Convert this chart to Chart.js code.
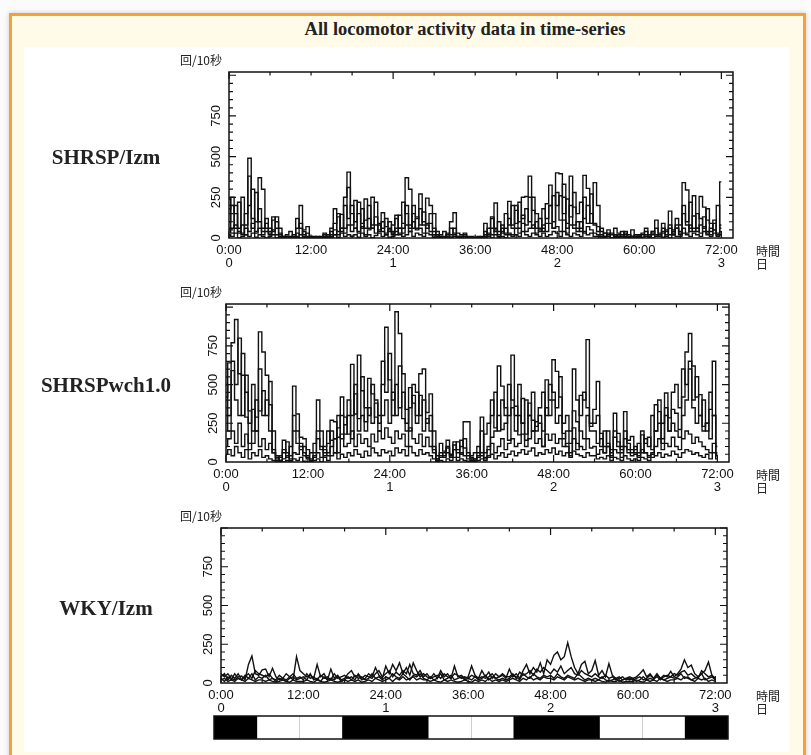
<!DOCTYPE html>
<html>
<head>
<meta charset="utf-8">
<script src="https://cdn.jsdelivr.net/npm/chart.js@4.4.0/dist/chart.umd.min.js"></script>
<style>
  html, body { margin: 0; padding: 0; background: #fbfbfb; }
  body { width: 811px; height: 755px; position: relative; overflow: hidden; }
  #frame { position: absolute; left: 9px; top: 13px; width: 791px; height: 760px;
           border: 3px solid #f5a03a; background: #fffbe8; box-shadow: 0 0 5px rgba(0,0,0,0.2); }
  #sheet { position: absolute; left: 24px; top: 47px; width: 766px; height: 705px; background: #fff; }
  .title { position: absolute; left: 465px; top: 19px; transform: translateX(-50%);
           font: bold 18.5px "Liberation Serif", serif; color: #222; white-space: nowrap; line-height: 20px; }
  .strain { position: absolute; left: 6px; width: 200px; text-align: center;
            font: bold 21px "Liberation Serif", serif; color: #222; line-height: 24px; }
  .unit { position: absolute; left: 180px; font: 12px "Noto Sans CJK JP", sans-serif; color: #222; line-height: 14px; }
  .note { position: absolute; left: 756px; font: 12px "Noto Sans CJK JP", sans-serif; color: #222; line-height: 13px; }
  canvas { position: absolute; }
</style>
</head>
<body>
<div id="frame"></div>
<div id="sheet"></div>
<div class="title">All locomotor activity data in time-series</div>
<script>
// 30-min bins from 0:00 to 72:00
const hours = Array.from({ length: 145 }, (_, i) => i / 2);
const hourTicks = [0, 12, 24, 36, 48, 60, 72];
const hourLabels = ['0:00', '12:00', '24:00', '36:00', '48:00', '60:00', '72:00'];
const dayLabels = ['0', '', '1', '', '2', '', '3'];
const countTicks = [0, 250, 500, 750];
const strains = ['SHRSP/Izm', 'SHRSPwch1.0', 'WKY/Izm'];
const darkPhases = [[0, 6], [18, 30], [42, 54], [66, 72]];
const lightMidpoints = [12, 36, 60];

// SHRSP/Izm (counts per 10 s)
const shrspA = [
  180,250,60,220,30,150,490,120,40,370,300,60,
  40,110,130,60,10,20,40,10,60,200,50,70,
  10,5,0,10,30,10,60,180,40,145,60,405,
  150,60,220,90,240,60,250,80,50,155,70,100,
  40,60,140,90,370,300,60,120,270,100,245,200,
  150,40,20,40,10,100,155,30,20,30,10,10,
  5,0,10,90,20,60,215,40,60,20,225,80,
  170,100,250,255,380,170,60,120,40,210,325,100,
  400,395,250,90,380,190,60,40,385,305,90,340,
  200,40,30,50,20,60,30,20,40,10,50,20,
  10,30,60,20,40,110,30,60,20,165,50,60,
  30,340,295,60,135,40,255,190,110,40,110,20,
  345];
const shrspB = [
  240,60,200,30,80,20,380,60,280,100,40,90,
  20,130,60,20,0,10,5,0,120,60,10,0,
  0,0,10,0,20,0,40,20,130,60,250,310,
  80,230,40,180,60,120,80,220,40,100,20,60,
  30,140,20,60,200,80,150,60,180,80,90,150,
  40,20,0,10,30,20,60,10,10,0,5,0,
  0,0,5,20,60,130,40,20,80,30,120,60,
  200,60,140,80,250,60,100,40,80,90,200,60,
  280,110,330,60,200,80,100,60,250,90,270,80,
  70,20,10,20,30,10,20,10,30,0,10,20,
  0,20,10,0,30,20,10,40,10,60,20,80,
  40,150,80,40,260,60,80,130,30,60,90,20,
  80];
const shrspC = [
  60,30,80,40,20,60,40,90,30,60,20,40,
  30,50,20,10,5,10,0,5,30,20,40,10,
  5,0,0,5,10,0,20,50,20,60,30,80,
  40,60,30,70,20,50,60,30,80,40,30,50,
  20,40,60,30,80,40,100,50,60,30,80,40,
  20,10,5,0,10,5,20,0,10,20,0,5,
  0,5,0,10,30,20,50,10,40,60,30,20,
  60,30,90,40,60,80,30,50,60,40,90,60,
  70,40,110,30,80,60,40,100,30,70,50,30,
  20,10,30,10,0,20,5,10,20,0,10,5,
  10,0,20,10,40,20,10,30,50,20,40,60,
  20,60,30,80,40,60,30,70,40,20,50,30,
  40];
const shrspD = [
  20,10,30,0,10,20,10,30,5,20,10,0,
  10,20,0,5,0,0,5,0,10,0,5,0,
  0,0,5,0,0,10,0,20,5,30,10,20,
  10,20,5,30,10,20,0,15,30,10,20,5,
  10,20,30,10,20,40,10,30,20,10,30,20,
  5,0,10,0,0,5,10,5,0,10,5,0,
  0,0,5,0,10,0,20,5,10,0,20,10,
  20,10,40,20,10,30,20,10,30,10,20,40,
  30,10,40,20,10,30,20,10,40,20,30,10,
  10,0,5,10,0,5,10,0,5,0,10,0,
  5,0,10,5,0,10,20,5,10,0,20,10,
  10,30,20,10,30,20,10,40,20,10,30,10,
  20];
const shrspE = [
  100,200,150,60,250,80,200,300,100,180,60,120,
  60,40,100,30,10,0,10,20,5,90,20,30,
  0,10,0,0,5,20,10,90,150,40,200,120,
  200,100,150,60,110,200,60,130,90,60,120,40,
  80,120,60,220,150,60,200,130,80,160,60,90,
  60,20,10,0,20,60,30,10,0,10,0,5,
  0,10,0,40,10,120,60,100,30,150,80,200,
  90,220,120,180,100,250,150,60,180,120,200,260,
  200,260,150,240,130,280,150,220,120,200,150,90,
  40,60,10,30,0,20,10,40,10,20,0,10,
  20,5,40,10,20,60,10,90,40,80,30,120,
  80,200,100,220,60,150,120,60,180,90,50,200,
  60];

// SHRSPwch1.0
const wchA = [
  420,640,770,920,570,560,290,120,340,290,840,710,
  560,370,80,20,30,140,30,100,490,310,160,150,
  80,20,30,400,200,40,60,270,260,160,420,290,
  180,630,310,690,460,260,540,440,290,250,500,870,
  530,400,970,830,570,340,200,430,300,570,600,320,
  440,200,20,30,60,140,40,80,130,50,260,260,
  20,10,30,290,20,40,160,200,620,490,350,140,
  690,360,175,410,140,380,270,230,250,100,530,400,
  660,585,420,185,100,40,220,80,430,400,790,230,
  340,520,185,60,100,30,315,185,60,325,140,165,
  60,40,175,60,30,50,370,325,150,445,285,340,
  315,210,420,710,830,620,420,435,230,250,340,650,
  40];
const wchB = [
  300,200,590,500,800,300,560,330,200,400,330,460,
  300,520,200,40,10,60,130,40,200,120,80,100,
  40,60,120,200,80,100,200,140,60,300,150,240,
  300,150,440,280,300,200,350,250,380,200,300,400,
  250,450,300,620,280,200,480,380,250,430,200,280,
  200,100,40,120,70,100,50,130,80,100,150,60,
  40,60,100,40,180,250,400,220,300,210,250,300,
  350,200,300,250,180,300,200,260,300,200,350,300,
  400,250,300,150,200,120,330,260,200,150,300,200,
  200,120,150,100,200,80,160,100,80,200,120,80,
  100,60,200,120,160,80,200,250,120,300,200,250,
  200,160,300,400,600,350,250,300,200,250,150,300,
  100];
const wchC = [
  100,150,200,120,250,100,180,80,120,200,100,150,
  80,120,60,30,10,20,40,10,60,50,100,40,
  20,10,40,60,30,80,40,100,150,60,180,100,
  120,200,100,180,120,150,100,180,130,200,150,220,
  160,120,200,150,180,100,220,150,120,180,100,160,
  100,60,20,40,30,60,40,80,30,60,40,20,
  10,20,40,60,30,80,120,60,100,150,80,120,
  150,100,120,180,100,150,200,120,150,100,180,140,
  180,120,150,100,120,60,150,120,100,80,150,90,
  100,50,80,60,100,40,80,60,30,100,60,40,
  50,30,80,60,40,60,100,150,80,120,100,160,
  100,80,150,200,180,120,160,130,100,80,60,120,
  50];
const wchD = [
  50,80,40,100,60,30,80,20,60,40,80,30,
  40,20,10,0,5,0,10,0,20,10,30,5,
  0,5,10,20,0,30,10,40,60,20,50,30,
  60,40,80,50,30,70,40,90,60,40,80,60,
  70,40,90,60,80,40,100,60,40,80,50,60,
  40,20,5,10,0,20,10,30,10,20,10,5,
  0,5,10,20,10,30,50,20,40,60,30,50,
  70,40,60,80,50,70,90,40,60,50,80,60,
  90,50,70,40,60,30,70,50,40,30,60,40,
  40,20,30,20,40,10,30,20,10,40,20,10,
  20,10,30,20,10,30,40,60,30,50,40,70,
  50,30,60,80,70,50,60,40,30,50,20,60,
  20];
const wchE = [
  500,300,650,400,300,700,450,250,500,200,600,300,
  400,200,60,10,40,80,60,20,300,200,120,60,
  30,10,60,150,100,60,120,200,150,220,300,180,
  400,300,500,200,550,350,300,500,400,300,650,450,
  700,300,500,350,450,250,350,500,450,300,400,250,
  300,80,10,60,40,90,30,110,60,140,90,40,
  30,20,60,200,60,100,300,450,200,400,300,500,
  400,300,500,250,400,300,450,200,350,450,300,500,
  450,350,550,250,300,200,600,400,300,450,350,250,
  250,300,100,200,120,60,200,130,100,150,80,60,
  80,120,60,150,100,300,200,400,250,350,200,450,
  500,350,600,500,650,400,550,300,400,200,450,300,
  60];

// WKY/Izm
const wkyA = [
  60,40,60,30,20,40,45,20,120,175,60,50,
  85,90,40,95,40,20,30,60,40,20,170,80,
  60,40,50,30,120,40,60,20,90,30,50,20,
  30,60,80,40,50,20,30,60,40,100,50,30,
  110,60,120,80,130,60,100,50,130,80,40,60,
  40,30,60,30,80,40,60,30,110,40,50,30,
  40,110,50,30,80,40,70,30,60,40,50,30,
  90,40,60,30,80,120,60,100,70,130,60,150,
  120,180,200,150,170,260,170,100,60,120,140,60,
  80,145,50,80,40,125,50,30,40,20,30,40,
  30,40,60,85,40,60,30,60,30,50,40,75,
  40,60,90,150,100,115,60,40,60,80,135,50,
  20];
const wkyB = [
  40,60,20,50,30,60,20,40,60,30,80,60,
  50,40,60,30,20,50,30,20,40,60,30,40,
  20,60,30,40,20,50,30,40,20,60,30,40,
  50,30,40,20,60,30,50,40,30,60,80,40,
  60,80,40,70,50,80,60,120,60,50,80,40,
  60,30,40,50,30,60,40,30,60,50,30,40,
  30,50,40,30,40,30,40,60,30,40,60,40,
  40,60,30,70,50,60,80,50,90,70,100,80,
  60,90,70,110,60,80,100,60,50,80,60,50,
  40,60,40,30,50,30,40,20,30,40,20,30,
  20,30,40,20,30,50,30,40,20,40,50,40,
  60,50,70,80,50,60,40,30,80,60,40,50,
  30];
const wkyC = [
  20,30,10,20,10,30,20,10,30,20,10,20,
  20,10,20,10,5,10,20,10,5,20,10,10,
  10,20,10,5,20,10,5,10,20,10,5,10,
  20,10,20,10,20,5,10,20,10,30,20,10,
  20,30,10,30,20,40,20,30,40,20,30,20,
  20,10,20,10,5,20,10,20,10,5,10,20,
  10,5,20,10,20,10,30,10,20,10,20,10,
  20,30,20,10,30,20,40,20,30,20,40,30,
  30,20,40,30,20,40,30,20,30,20,10,20,
  20,10,20,10,5,20,10,10,20,5,10,10,
  10,20,10,5,20,10,20,10,30,20,10,20,
  20,30,20,40,30,20,10,30,20,30,10,20,
  10];
const wkyD = [
  30,10,40,20,60,30,20,50,30,60,20,40,
  30,50,20,30,10,30,20,10,30,40,20,30,
  40,20,60,20,30,10,40,20,30,20,40,10,
  20,40,20,50,30,40,20,30,60,30,40,20,
  40,30,60,40,30,60,40,20,50,40,60,30,
  20,40,20,30,60,20,30,50,20,30,40,20,
  30,20,40,20,30,50,20,40,30,20,30,20,
  30,50,40,20,60,40,30,60,40,30,50,40,
  50,30,60,40,30,50,40,30,60,40,20,30,
  20,30,20,40,20,10,20,30,10,20,30,20,
  30,10,20,40,20,30,20,50,30,20,30,40,
  30,40,60,30,40,20,30,40,60,20,30,40,
  20];

const seriesByStrain = [
  [shrspA, shrspB, shrspC, shrspD, shrspE],
  [wchA, wchB, wchC, wchD, wchE],
  [wkyA, wkyB, wkyC, wkyD]
];

// plot-area placement of each panel on the page
const boxes = [
  { left: 229, right: 733, top: 72, bottom: 238, yMax: 1020, stepped: 'middle' },
  { left: 226, right: 729, top: 304, bottom: 462, yMax: 1020, stepped: 'middle' },
  { left: 221, right: 727, top: 528, bottom: 683, yMax: 1000, stepped: false }
];
const barBox = { left: 214, right: 728, top: 716, bottom: 739 };

const minorY = 50, majorY = 250, minorX = 6, majorX = 24;
const ink = '#111';
const tickFont = { family: 'Liberation Sans', size: 13, lineHeight: 1 };

const framePlugin = {
    id: 'frame',
    afterDatasetsDraw(chart) {
        const { ctx, chartArea: a, scales: { x, y } } = chart;
        ctx.save();
        ctx.strokeStyle = ink;
        ctx.lineWidth = 1.5;
        ctx.strokeRect(a.left, a.top, a.right - a.left, a.bottom - a.top);
        ctx.lineWidth = 1.2;
        ctx.beginPath();
        for (let v = minorY; v <= y.max; v += minorY) {
            const py = y.getPixelForValue(v);
            const len = v % majorY === 0 ? 7 : 4;
            ctx.moveTo(a.left, py); ctx.lineTo(a.left + len, py);
            ctx.moveTo(a.right, py); ctx.lineTo(a.right - len, py);
        }
        for (let h = 0; h <= 72; h += minorX) {
            const px = x.getPixelForValue(h);
            const len = h % majorX === 0 ? 7 : 3.5;
            ctx.moveTo(px, a.top); ctx.lineTo(px, a.top + len);
            ctx.moveTo(px, a.bottom); ctx.lineTo(px, a.bottom - len);
        }
        ctx.stroke();
        ctx.restore();
    }
};

function addText(cls, text, left, top) {
    const d = document.createElement('div');
    d.className = cls;
    d.innerHTML = text;
    if (left !== null) d.style.left = left + 'px';
    d.style.top = top + 'px';
    document.body.appendChild(d);
}

function createPanel(box, seriesList, strain) {
    const padL = 50, padT = 10, padR = 48, axisH = 36, padB = 8;
    const canvas = document.createElement('canvas');
    canvas.width = box.right - box.left + padL + padR;
    canvas.height = box.bottom - box.top + padT + axisH + padB;
    canvas.style.left = (box.left - padL) + 'px';
    canvas.style.top = (box.top - padT) + 'px';
    document.body.appendChild(canvas);

    addText('strain', strain, null, (box.top + box.bottom) / 2 - 10);
    addText('unit', '回/10秒', 180, box.top - 19);
    addText('note', '時間<br>日', 756, box.bottom + 6);

    new Chart(canvas, {
        type: 'line',
        data: {
            datasets: seriesList.map(s => ({
                data: s.map((v, i) => ({ x: hours[i], y: v })),
                borderColor: ink,
                borderWidth: 1.4,
                pointRadius: 0,
                stepped: box.stepped,
                tension: 0,
                fill: false
            }))
        },
        options: {
            responsive: false,
            animation: false,
            events: [],
            layout: { padding: { left: 0, top: padT, right: padR, bottom: padB } },
            plugins: { legend: { display: false }, tooltip: { enabled: false } },
            scales: {
                x: {
                    type: 'linear', min: 0, max: 73.7,
                    grid: { display: false, drawTicks: false },
                    border: { display: false },
                    afterBuildTicks: s => { s.ticks = hourTicks.map(v => ({ value: v })); },
                    afterFit: s => { s.height = axisH; s.paddingLeft = 0; s.paddingRight = 0; },
                    ticks: {
                        autoSkip: false, maxRotation: 0, padding: 6, color: ink, font: tickFont,
                        callback: (v, k) => [hourLabels[k], dayLabels[k]]
                    }
                },
                y: {
                    min: 0, max: box.yMax,
                    grid: { display: false, drawTicks: false },
                    border: { display: false },
                    afterBuildTicks: s => { s.ticks = countTicks.map(v => ({ value: v })); },
                    afterFit: s => { s.width = padL; s.paddingTop = 0; s.paddingBottom = 0; },
                    ticks: {
                        minRotation: 90, maxRotation: 90, crossAlign: 'center',
                        padding: 1.5, color: ink, font: tickFont
                    }
                }
            }
        },
        plugins: [framePlugin]
    });
}

function createPhaseBar(box) {
    const canvas = document.createElement('canvas');
    canvas.width = box.right - box.left + 2;
    canvas.height = box.bottom - box.top + 2;
    canvas.style.left = (box.left - 1) + 'px';
    canvas.style.top = (box.top - 1) + 'px';
    document.body.appendChild(canvas);
    new Chart(canvas, {
        type: 'bar',
        data: {
            labels: [''],
            datasets: darkPhases.map(p => ({
                data: [p],
                backgroundColor: '#000',
                barPercentage: 1,
                categoryPercentage: 1,
                grouped: false
            }))
        },
        options: {
            indexAxis: 'y',
            responsive: false,
            animation: false,
            events: [],
            layout: { padding: 1 },
            plugins: { legend: { display: false }, tooltip: { enabled: false } },
            scales: {
                x: {
                    type: 'linear', min: 0, max: 72,
                    grid: { color: '#cfcfcf', lineWidth: 1, drawTicks: false },
                    border: { display: false },
                    ticks: { display: false },
                    afterBuildTicks: s => { s.ticks = lightMidpoints.map(v => ({ value: v })); },
                    afterFit: s => { s.height = 0; s.paddingLeft = 0; s.paddingRight = 0; }
                },
                y: { display: false }
            }
        },
        plugins: [{
            id: 'barFrame',
            afterDatasetsDraw(chart) {
                const { ctx, chartArea: a } = chart;
                ctx.save();
                ctx.strokeStyle = ink;
                ctx.lineWidth = 1.5;
                ctx.strokeRect(a.left, a.top, a.right - a.left, a.bottom - a.top);
                ctx.restore();
            }
        }]
    });
}

boxes.forEach((b, i) => createPanel(b, seriesByStrain[i], strains[i]));
createPhaseBar(barBox);
</script>
</body>
</html>
